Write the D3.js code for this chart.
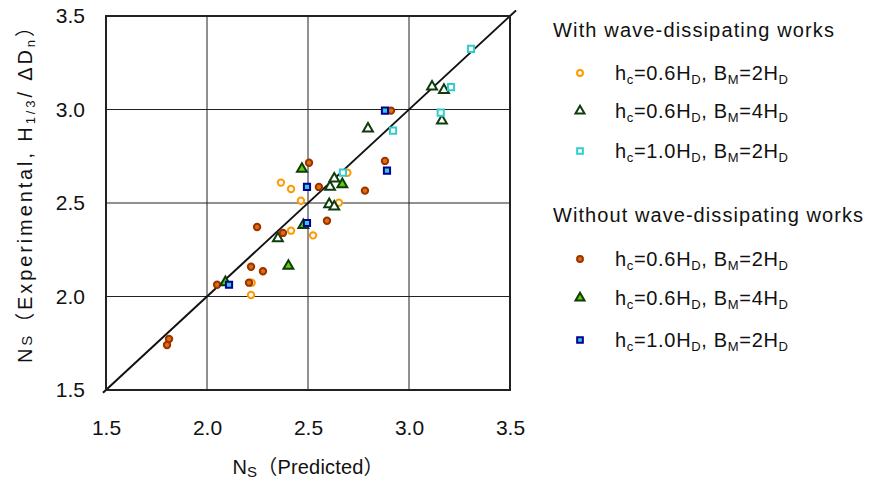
<!DOCTYPE html>
<html>
<head>
<meta charset="utf-8">
<script src="https://cdn.jsdelivr.net/npm/d3@7"></script>
<style>
  body { margin: 0; background: #fff; }
  text { font-family: "Liberation Sans", Arial, "Noto Sans CJK JP", sans-serif; fill: #111; }
</style>
</head>
<body>
<div id="chart"></div>
<script>
// Axes
const xTicks = [1.5, 2.0, 2.5, 3.0, 3.5];
const yTicks = [1.5, 2.0, 2.5, 3.0, 3.5];

// With wave-dissipating works
const withCircle = [[2.366, 2.609], [2.416, 2.575], [2.465, 2.512], [2.653, 2.502], [2.695, 2.662],
  [2.416, 2.352], [2.525, 2.327], [2.221, 2.074], [2.218, 2.008]];
const withTriangle = [[3.114, 3.122], [3.173, 3.104], [3.163, 2.94], [2.797, 2.897], [2.630, 2.630],
  [2.609, 2.586], [2.605, 2.493], [2.630, 2.48], [2.351, 2.311]];
const withSquare = [[3.307, 3.324], [3.208, 3.12], [3.157, 2.983], [2.921, 2.887], [2.673, 2.662]];

// Without wave-dissipating works
const withoutCircle = [[2.911, 2.994], [2.505, 2.715], [2.881, 2.725], [2.554, 2.586], [2.782, 2.566],
  [2.594, 2.405], [2.248, 2.372], [2.376, 2.340], [2.218, 2.159], [2.277, 2.135], [2.05, 2.063],
  [2.208, 2.074], [1.812, 1.773], [1.802, 1.741]];
const withoutTriangle = [[2.470, 2.682], [2.67, 2.60], [2.477, 2.382], [2.403, 2.163], [2.091, 2.076]];
const withoutSquare = [[2.881, 2.994], [2.891, 2.673], [2.495, 2.586], [2.495, 2.393], [2.109, 2.063]];

const labelRows = [['0.6', '2'], ['0.6', '4'], ['1.0', '2']];

const series = [
  { data: withCircle, shape: d3.symbolCircle, size: 32, fill: '#fff', stroke: '#ff9900' },
  { data: withTriangle, shape: d3.symbolTriangle, size: 42, fill: '#fff', stroke: '#0d3d0d' },
  { data: withSquare, shape: d3.symbolSquare, size: 38, fill: '#fff', stroke: '#33cccc' },
  { data: withoutCircle, shape: d3.symbolCircle, size: 32, fill: '#e36c0a', stroke: '#993300' },
  { data: withoutTriangle, shape: d3.symbolTriangle, size: 42, fill: '#66cc00', stroke: '#0d3d0d' },
  { data: withoutSquare, shape: d3.symbolSquare, size: 38, fill: '#33cccc', stroke: '#000099' }
];

const W = 869, H = 481;
const svg = d3.select('#chart').append('svg').attr('width', W).attr('height', H);

const x = d3.scaleLinear().domain([1.5, 3.5]).range([106, 510]);
const y = d3.scaleLinear().domain([1.5, 3.5]).range([390, 16]);

// Grille
svg.append('g').selectAll('line').data(xTicks.slice(1, -1)).join('line')
  .attr('x1', d => x(d)).attr('x2', d => x(d)).attr('y1', y(3.5)).attr('y2', y(1.5))
  .attr('stroke', '#222').attr('stroke-width', 1);
svg.append('g').selectAll('line').data(yTicks.slice(1, -1)).join('line')
  .attr('y1', d => y(d)).attr('y2', d => y(d)).attr('x1', x(1.5)).attr('x2', x(3.5))
  .attr('stroke', '#222').attr('stroke-width', 1);

// Ligne 1:1
svg.append('line')
  .attr('x1', x(1.485)).attr('y1', y(1.485)).attr('x2', x(3.53)).attr('y2', y(3.53))
  .attr('stroke', '#111').attr('stroke-width', 2);

// Cadre
svg.append('rect')
  .attr('x', x(1.5)).attr('y', y(3.5)).attr('width', x(3.5) - x(1.5)).attr('height', y(1.5) - y(3.5))
  .attr('fill', 'none').attr('stroke', '#222').attr('stroke-width', 2);

// Axes (labels)
svg.append('g').attr('transform', `translate(0,${y(1.5)})`)
  .call(d3.axisBottom(x).tickValues(xTicks).tickFormat(d3.format('.1f')).tickSize(0).tickPadding(30))
  .call(g => g.select('.domain').remove())
  .selectAll('text').style('font-size', '21px').attr('fill', '#111');
svg.append('g').attr('transform', `translate(${x(1.5)},0)`)
  .call(d3.axisLeft(y).tickValues(yTicks).tickFormat(d3.format('.1f')).tickSize(0).tickPadding(21))
  .call(g => g.select('.domain').remove())
  .selectAll('text').style('font-size', '21px').attr('fill', '#111');

// Points
series.forEach(s => {
  svg.append('g').selectAll('path').data(s.data).join('path')
    .attr('transform', d => `translate(${x(d[0])},${y(d[1])})`)
    .attr('d', d3.symbol().type(s.shape).size(s.size))
    .attr('fill', s.fill).attr('stroke', s.stroke).attr('stroke-width', 2);
});

// Titre axe X
const xt = svg.append('text').attr('x', 308).attr('y', 474).attr('text-anchor', 'middle')
  .style('font-size', '20px').attr('textLength', 151).attr('lengthAdjust', 'spacing');
xt.append('tspan').text('N');
xt.append('tspan').attr('dy', 3).style('font-size', '15px').text('S');
xt.append('tspan').attr('dy', -3).text('（Predicted）');

// Titre axe Y
const yt = svg.append('text').attr('transform', 'translate(32,190) rotate(-90)')
  .attr('text-anchor', 'middle').style('font-size', '20px')
  .attr('textLength', 346).attr('lengthAdjust', 'spacing');
yt.append('tspan').text('N');
yt.append('tspan').style('font-size', '15px').text('S');
yt.append('tspan').text('（Experimental, H');
yt.append('tspan').attr('dy', 3).style('font-size', '13px').text('1/3');
yt.append('tspan').attr('dy', -3).text('/ ΔD');
yt.append('tspan').attr('dy', 3).style('font-size', '13px').text('n');
yt.append('tspan').attr('dy', -3).text('）');

// Légende
function legendLabel(yPos, row) {
  const t = svg.append('text').attr('x', 615).attr('y', yPos + 7).style('font-size', '20px')
    .attr('textLength', 173).attr('lengthAdjust', 'spacing');
  t.append('tspan').text('h');
  t.append('tspan').attr('dy', 4).style('font-size', '13px').text('c');
  t.append('tspan').attr('dy', -4).text(`=${row[0]}H`);
  t.append('tspan').attr('dy', 4).style('font-size', '13px').text('D');
  t.append('tspan').attr('dy', -4).text(', B');
  t.append('tspan').attr('dy', 4).style('font-size', '13px').text('M');
  t.append('tspan').attr('dy', -4).text(`=${row[1]}H`);
  t.append('tspan').attr('dy', 4).style('font-size', '13px').text('D');
}

const groups = [
  { title: 'With wave-dissipating works', ty: 37, len: 281, rows: [73, 111, 151], series: series.slice(0, 3) },
  { title: 'Without wave-dissipating works', ty: 222, len: 310, rows: [259, 298, 340], series: series.slice(3) }
];
groups.forEach(g => {
  svg.append('text').attr('x', 553).attr('y', g.ty).style('font-size', '20px')
    .attr('textLength', g.len).attr('lengthAdjust', 'spacing').text(g.title);
  g.rows.forEach((ry, i) => {
    const s = g.series[i];
    svg.append('path').attr('transform', `translate(580,${ry})`)
      .attr('d', d3.symbol().type(s.shape).size(s.size * 0.85))
      .attr('fill', s.fill).attr('stroke', s.stroke).attr('stroke-width', 2);
    legendLabel(ry, labelRows[i]);
  });
});
</script>
</body>
</html>
